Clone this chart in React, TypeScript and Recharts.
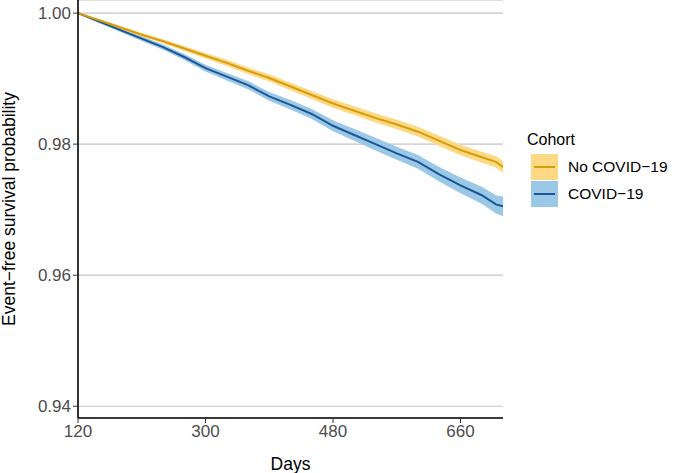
import { ComposedChart, Line, Area, XAxis, YAxis, CartesianGrid } from 'recharts';

// follow-up days at which the curves were read
const days = [120, 150, 180, 210, 240, 270, 300, 330, 360, 390, 420, 450, 480, 510, 540, 570, 600, 630, 660, 690, 710, 720];

// No COVID-19 cohort: survival estimate and half-width of the 95% band
const noCovid = [1.0, 0.9989, 0.9978, 0.9967, 0.9957, 0.9946, 0.9935, 0.9924, 0.9912, 0.9901, 0.9888, 0.9875, 0.9862, 0.9851, 0.9840, 0.9830, 0.9819, 0.9805, 0.9791, 0.9780, 0.9773, 0.9765];
const noCovidCi = [0, 0.00015, 0.00022, 0.00027, 0.00032, 0.00037, 0.00042, 0.00047, 0.00051, 0.00055, 0.00058, 0.00061, 0.00064, 0.00067, 0.0007, 0.00072, 0.00075, 0.00078, 0.00081, 0.00085, 0.00088, 0.0009];

// COVID-19 cohort
const covid = [1.0, 0.9987, 0.9974, 0.9961, 0.9948, 0.9933, 0.9916, 0.9903, 0.9890, 0.9873, 0.9860, 0.9846, 0.9828, 0.9814, 0.9800, 0.9786, 0.9773, 0.9754, 0.9737, 0.9722, 0.9708, 0.9705];
const covidCi = [0, 0.0002, 0.00028, 0.00035, 0.00041, 0.00047, 0.00052, 0.00057, 0.00062, 0.00067, 0.00072, 0.00077, 0.00084, 0.0009, 0.00096, 0.001, 0.00106, 0.00112, 0.0012, 0.0013, 0.0014, 0.0015];

const xTicks = [120, 300, 480, 660];
const yTicks = [0.94, 0.96, 0.98, 1.0];

const ORANGE = '#D69D0C';
const ORANGE_BAND = '#FCD985';
const BLUE = '#1A5794';
const BLUE_BAND = '#9CC8E7';
const FONT = '"Liberation Sans", Arial, Helvetica, sans-serif';

const data = days.map((d, i) => ({
  day: d,
  noCovid: noCovid[i],
  noCovidBand: [noCovid[i] - noCovidCi[i], noCovid[i] + noCovidCi[i]],
  covid: covid[i],
  covidBand: [covid[i] - covidCi[i], covid[i] + covidCi[i]],
}));

function LegendKey({ line, band }: { line: string; band: string }) {
  return (
    <div style={{ width: 27, height: 26, background: band, position: 'relative' }}>
      <div style={{ position: 'absolute', left: 3, right: 3, top: 12, height: 2, background: line }} />
    </div>
  );
}

export default function App() {
  const tick = { fill: '#4D4D4D', fontSize: 17, fontFamily: FONT };
  return (
    <div style={{ position: 'absolute', left: 0, top: 0, width: 685, height: 473, background: '#fff', fontFamily: FONT }}>
      <ComposedChart width={685} height={473} data={data} margin={{ top: 0, right: 182, bottom: 0, left: 18 }}>
        <CartesianGrid vertical={false} stroke="#C4C4C4" strokeWidth={1.1} />
        <XAxis
          dataKey="day"
          type="number"
          domain={[120, 720]}
          ticks={xTicks}
          allowDataOverflow
          height={55}
          tick={tick}
          tickSize={5}
          axisLine={{ stroke: '#000', strokeWidth: 1.6 }}
          tickLine={{ stroke: '#333' }}
          label={{ value: 'Days', position: 'insideBottom', offset: 3, fill: '#000', fontSize: 17.5, fontFamily: FONT }}
        />
        <YAxis
          type="number"
          domain={[0.9382, 1.002]}
          ticks={yTicks}
          allowDataOverflow
          width={60}
          tick={tick}
          tickSize={5}
          tickFormatter={(v: number) => v.toFixed(2)}
          axisLine={{ stroke: '#000', strokeWidth: 1.6 }}
          tickLine={{ stroke: '#333' }}
        />
        <Area dataKey="covidBand" type="linear" stroke="none" fill={BLUE_BAND} fillOpacity={1} isAnimationActive={false} />
        <Area dataKey="noCovidBand" type="linear" stroke="none" fill={ORANGE_BAND} fillOpacity={1} isAnimationActive={false} />
        <Line dataKey="covid" type="linear" stroke={BLUE} strokeWidth={2} dot={false} isAnimationActive={false} />
        <Line dataKey="noCovid" type="linear" stroke={ORANGE} strokeWidth={2} dot={false} isAnimationActive={false} />
      </ComposedChart>

      <div
        style={{
          position: 'absolute',
          left: 9,
          top: 209,
          transform: 'translate(-50%, -50%) rotate(-90deg)',
          whiteSpace: 'nowrap',
          fontSize: 17.5,
          color: '#000',
        }}
      >
        Event−free survival probability
      </div>

      <div style={{ position: 'absolute', left: 527, top: 131, color: '#000' }}>
        <div style={{ fontSize: 16, marginBottom: 5 }}>Cohort</div>
        <div style={{ display: 'flex', alignItems: 'center', marginLeft: 4, marginBottom: 1 }}>
          <LegendKey line={ORANGE} band={ORANGE_BAND} />
          <span style={{ fontSize: 15.5, marginLeft: 10 }}>No COVID−19</span>
        </div>
        <div style={{ display: 'flex', alignItems: 'center', marginLeft: 4 }}>
          <LegendKey line={BLUE} band={BLUE_BAND} />
          <span style={{ fontSize: 15.5, marginLeft: 10 }}>COVID−19</span>
        </div>
      </div>
    </div>
  );
}
